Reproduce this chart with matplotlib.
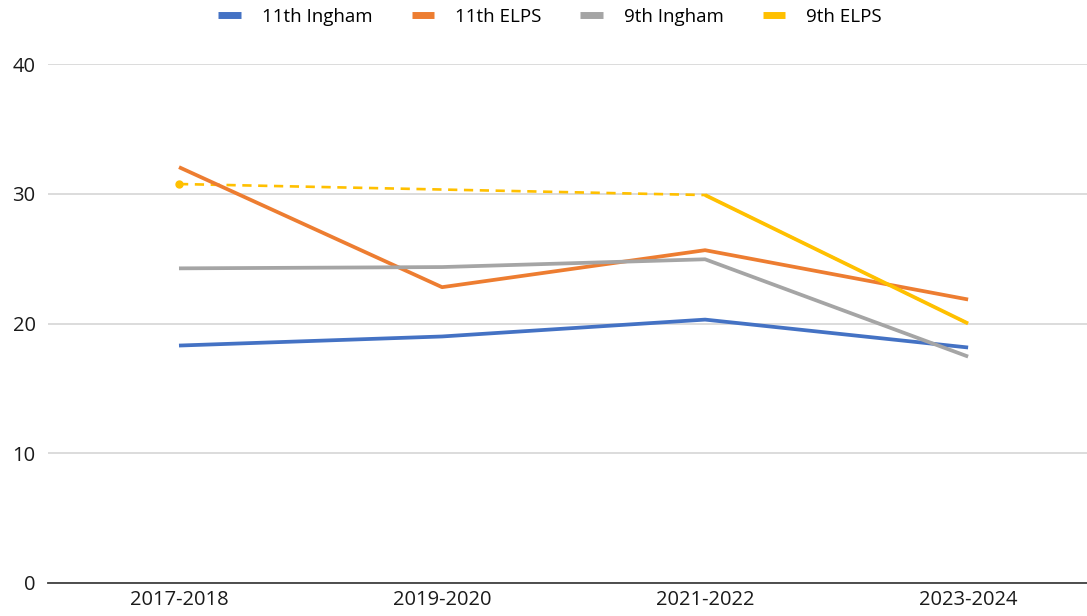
import numpy as np
import matplotlib
matplotlib.use("Agg")
import matplotlib.pyplot as plt
from matplotlib.lines import Line2D

categories = ["2017-2018", "2019-2020", "2021-2022", "2023-2024"]
series_names = ["11th Ingham", "11th ELPS", "9th Ingham", "9th ELPS"]
ingham_11 = [18.3, 19.0, 20.3, 18.15]
elps_11 = [32.05, 22.8, 25.65, 21.85]
ingham_9 = [24.25, 24.35, 24.95, 17.45]
elps_9 = [30.75, np.nan, 29.9, 20.0]
colors = ["#4472C4", "#ED7D31", "#A5A5A5", "#FFC000"]
yticks = [0, 10, 20, 30, 40]

W, H = 1087, 616
fig = plt.figure(figsize=(W / 100, H / 100), dpi=100)
ax = fig.add_axes([48 / W, (H - 583) / H, (W - 48) / W, (583 - 64) / H])

x = np.arange(len(categories))
all_series = [ingham_11, elps_11, ingham_9, elps_9]
for vals, col, name in zip(all_series, colors, series_names):
    v = np.array(vals, dtype=float)
    ok = ~np.isnan(v)
    # dashed connection across gaps
    if not ok.all():
        ax.plot(x[ok], v[ok], color=col, lw=1.9, ls=(0, (3.5, 2.5)), zorder=3)
        # isolated points get a small dot
        for i in np.where(ok)[0]:
            left = i > 0 and ok[i - 1]
            right = i < len(v) - 1 and ok[i + 1]
            if not left and not right:
                ax.plot([x[i]], [v[i]], "o", color=col, ms=5, zorder=4)
    ax.plot(x, v, color=col, lw=2.7, solid_capstyle="butt", zorder=4)

ax.set_xlim(-0.498, 3.452)
ax.set_ylim(0, 40)
ax.set_yticks(yticks)
ax.set_xticks(x)
ax.set_xticklabels(categories)
ax.grid(axis="y", color="#D9D9D9", lw=1.3)
ax.set_axisbelow(True)
for s in ["top", "right", "left"]:
    ax.spines[s].set_visible(False)
ax.spines["bottom"].set_color("#404040")
ax.spines["bottom"].set_linewidth(1.3)
ax.tick_params(axis="both", length=0, labelsize=14.5, colors="#1a1a1a")
ax.tick_params(axis="y", pad=9)
ax.tick_params(axis="x", pad=5)
for lbl in ax.get_xticklabels() + ax.get_yticklabels():
    lbl.set_family("Open Sans")

handles = [Line2D([0], [0], color=c, lw=5, solid_capstyle="butt") for c in colors]
fig.legend(handles, series_names, loc="center", bbox_to_anchor=(0.506, 1 - 17 / H),
           ncol=4, frameon=False, handlelength=1.2, columnspacing=2.1,
           handletextpad=1.1, prop={"family": ["Open Sans", "DejaVu Sans"], "size": 13.5})

fig.savefig("out.png", dpi=100)
